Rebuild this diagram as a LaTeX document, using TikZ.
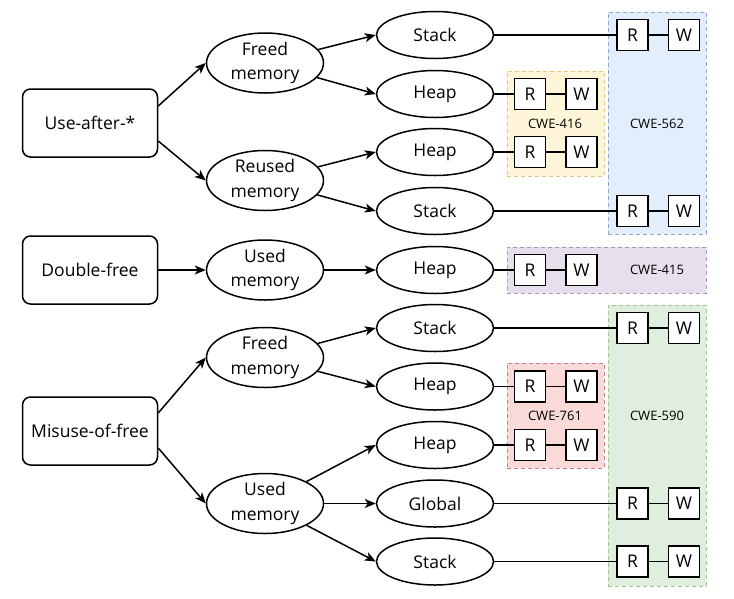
\documentclass[tikz,border=0pt]{standalone}
\usepackage{fontspec}
\setmainfont{Open Sans}
\usetikzlibrary{shapes.geometric, arrows.meta, positioning}

\definecolor{blueF}{HTML}{DAE8FC}\definecolor{blueD}{HTML}{6C8EBF}
\definecolor{yelF}{HTML}{FFF2CC}\definecolor{yelD}{HTML}{D6B656}
\definecolor{purF}{HTML}{E1D5E7}\definecolor{purD}{HTML}{9673A6}
\definecolor{grnF}{HTML}{D5E8D4}\definecolor{grnD}{HTML}{82B366}
\definecolor{redF}{HTML}{F8CECC}\definecolor{redD}{HTML}{B85450}

\begin{document}
\begin{tikzpicture}[x=1pt, y=-1pt, line width=1.5pt,
    font=\fontsize{17.5}{24.5}\selectfont,
    kind/.style = {draw, rounded corners=8pt,
                   minimum width=135pt, minimum height=68pt},
    mem/.style  = {ellipse, draw, align=center, inner sep=0pt,
                   minimum width=117pt, minimum height=60pt},
    loc/.style  = {ellipse, draw, inner sep=0pt,
                   minimum width=117pt, minimum height=47pt},
    acc/.style  = {draw, fill=white, minimum size=31pt, inner sep=0pt},
    grp/.style  = {draw=#1D!75, fill=#1F!75, dashed, line width=1pt,
                   dash pattern=on 4pt off 3pt, inner sep=0pt},
    cwe/.style  = {font=\fontsize{13}{15}\selectfont},
    arr/.style  = {-{Stealth[length=11pt, width=9pt, inset=3pt]}}
                    ]
    \useasboundingbox (0,0) rectangle (734,598);

    % groups of CWE
    \node (g562) [grp=blue, minimum width=98pt, minimum height=222pt] at (657,123) {};
    \node (g416) [grp=yel,  minimum width=97pt, minimum height=105pt] at (555.5,123.5) {};
    \node (g415) [grp=pur,  minimum width=199pt, minimum height=46pt] at (606.5,270) {};
    \node (g590) [grp=grn,  minimum width=98pt, minimum height=281pt] at (657,445.5) {};
    \node (g761) [grp=red,  minimum width=97pt, minimum height=105pt] at (555.5,415.5) {};
    \node (t562) [cwe] at (657,124) {CWE-562};
    \node (t416) [cwe] at (555,124) {CWE-416};
    \node (t415) [cwe] at (657,270) {CWE-415};
    \node (t590) [cwe] at (657,416) {CWE-590};
    \node (t761) [cwe] at (555,416) {CWE-761};

    % kinds of bug
    \node (ua) [kind] at (90,123) {Use-after-*};
    \node (df) [kind] at (90,270) {Double-free};
    \node (mf) [kind] at (90,431) {Misuse-of-free};

    % memory state
    \node (fa) [mem] at (265,63)    {Freed\\memory};
    \node (ra) [mem] at (265,180.5) {Reused\\memory};
    \node (ub) [mem] at (265,270)   {Used\\memory};
    \node (fc) [mem] at (265,357.5) {Freed\\memory};
    \node (uc) [mem] at (265,503.5) {Used\\memory};

    % memory location, then read / write
    \foreach \n/\y/\txt/\rx in {1/35/Stack/632.5, 2/94/Heap/530, 3/152/Heap/530,
            4/211/Stack/632.5, 5/270/Heap/530, 6/328/Stack/632.5,
            7/386.5/Heap/530, 8/445/Heap/530, 9/503.5/Global/632.5,
            10/561.5/Stack/632.5}{
        \node (l\n) [loc] at (435,\y) {\txt};
        \node (r\n) [acc] at (\rx,\y) {R};
        \node (w\n) [acc, right=19pt of r\n] {W};
        \draw (l\n) -- (r\n) -- (w\n);
    }

    \draw[arr] ([yshift=17pt]ua.east)  -- (fa.west);
    \draw[arr] ([yshift=-18pt]ua.east) -- (ra.west);
    \draw[arr] (df) -- (ub);
    \draw[arr] ([yshift=18pt]mf.east)  -- (fc.west);
    \draw[arr] ([yshift=-17pt]mf.east) -- (uc.west);

    \draw[arr] (fa) -- (l1.west);
    \draw[arr] (fa) -- (l2.west);
    \draw[arr] (ra) -- (l3.west);
    \draw[arr] (ra) -- (l4.west);
    \draw[arr] (ub) -- (l5);
    \draw[arr] (fc) -- (l6.west);
    \draw[arr] (fc) -- (l7.west);
    \draw[arr] (uc) -- (l8.west);
    \draw[arr] (uc) -- (l9);
    \draw[arr] (uc) -- (l10.west);
\end{tikzpicture}
\end{document}
